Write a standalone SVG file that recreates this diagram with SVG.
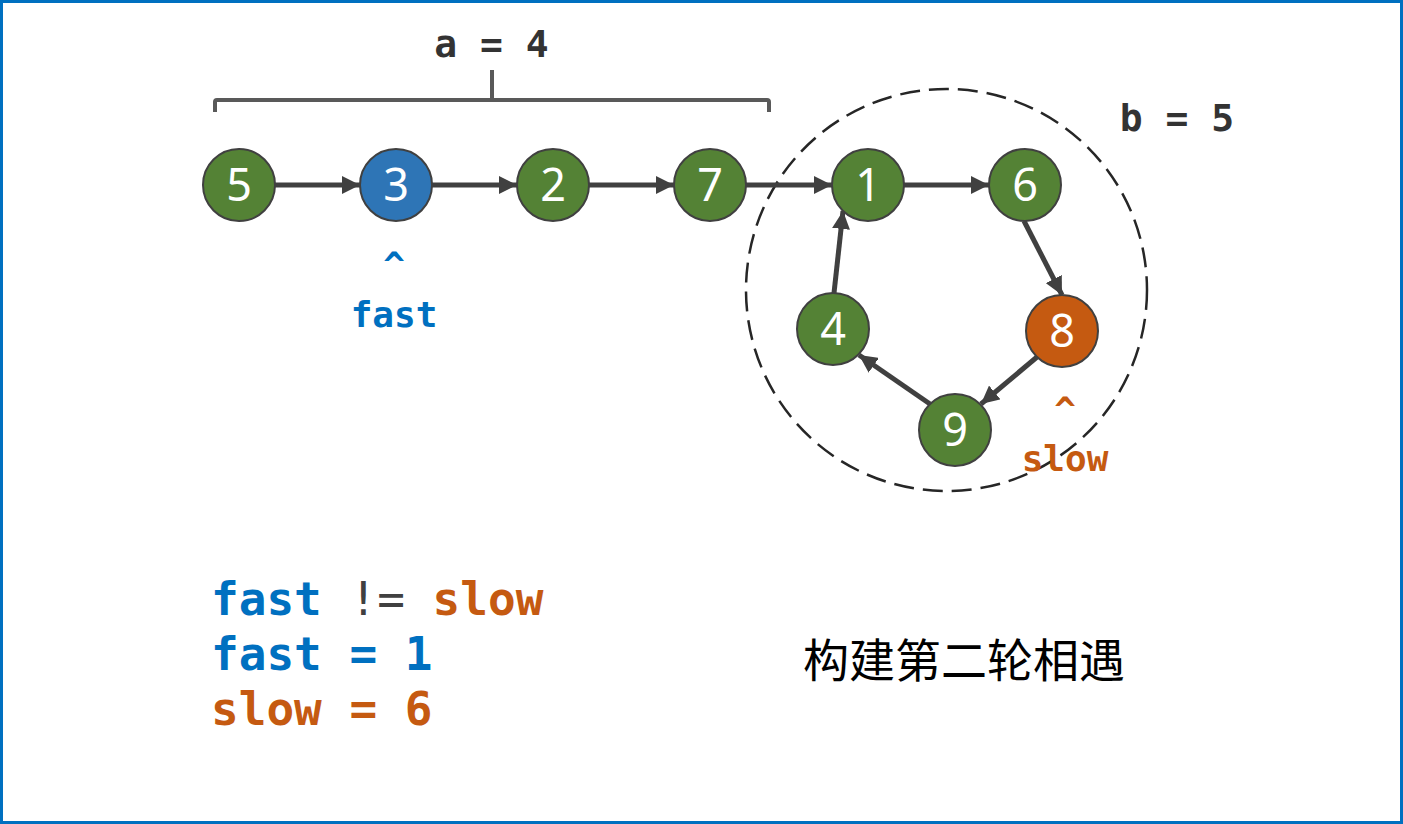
<svg xmlns="http://www.w3.org/2000/svg" width="1403" height="824" viewBox="0 0 1403 824">
<style>
.node circle{stroke:#404040;stroke-width:2}
.g{fill:#548235}.b{fill:#2e75b6}.o{fill:#c55a11}
.node text{font-family:"Noto Sans","Open Sans",sans-serif;font-size:45px;fill:#fff;text-anchor:middle}
.code{font-family:"DejaVu Sans Mono","Liberation Mono",monospace;font-weight:bold}
.edge{stroke:#404040;stroke-width:5;fill:none;marker-end:url(#ah)}
</style>
<defs>
<marker id="ah" markerUnits="userSpaceOnUse" markerWidth="20" markerHeight="18" refX="18" refY="9" orient="auto">
<path d="M0,0 L18,9 L0,18 z" fill="#404040"/>
</marker>
</defs>
<rect x="1.5" y="1.5" width="1400" height="821" fill="#fff" stroke="#0070c0" stroke-width="3"/>
<path d="M215,112 V102 Q215,100 217,100 H767 Q769,100 769,102 V112 M492,100 V70" fill="none" stroke="#595959" stroke-width="4"/>
<text class="code" x="491.5" y="57" font-size="38" fill="#333" text-anchor="middle" xml:space="preserve">a = 4</text>
<text class="code" x="1177" y="131" font-size="38" fill="#333" text-anchor="middle" xml:space="preserve">b = 5</text>
<ellipse cx="946.5" cy="290" rx="200.5" ry="201" fill="none" stroke="#262626" stroke-width="2.5" stroke-dasharray="20,9"/>
<g id="connectors">
<line class="edge" x1="275" y1="185" x2="360" y2="185"/>
<line class="edge" x1="432" y1="185" x2="517" y2="185"/>
<line class="edge" x1="589" y1="185" x2="674" y2="185"/>
<line class="edge" x1="746" y1="185" x2="832" y2="185"/>
<line class="edge" x1="904" y1="185" x2="989" y2="185"/>
<line class="edge" x1="1024" y1="221" x2="1062" y2="295"/>
<line class="edge" x1="1037" y1="357" x2="981" y2="404"/>
<line class="edge" x1="930" y1="404" x2="859" y2="355"/>
<line class="edge" x1="834" y1="293" x2="843" y2="211"/>
</g>
<g id="n5" class="node"><circle class="g" cx="239" cy="185" r="36"/><text x="239" y="201">5</text></g>
<g id="n3" class="node"><circle class="b" cx="396" cy="185" r="36"/><text x="396" y="201">3</text></g>
<g id="n2" class="node"><circle class="g" cx="553" cy="185" r="36"/><text x="553" y="201">2</text></g>
<g id="n7" class="node"><circle class="g" cx="710" cy="185" r="36"/><text x="710" y="201">7</text></g>
<g id="n1" class="node"><circle class="g" cx="868" cy="185" r="36"/><text x="868" y="201">1</text></g>
<g id="n6" class="node"><circle class="g" cx="1025" cy="185" r="36"/><text x="1025" y="201">6</text></g>
<g id="n8" class="node"><circle class="o" cx="1062" cy="331" r="36"/><text x="1062" y="347">8</text></g>
<g id="n9" class="node"><circle class="g" cx="955" cy="430" r="36"/><text x="955" y="446">9</text></g>
<g id="n4" class="node"><circle class="g" cx="833" cy="329" r="36"/><text x="833" y="345">4</text></g>
<text class="code" x="394" y="277" font-size="36" fill="#0070c0" text-anchor="middle">^</text>
<text class="code" x="394" y="327" font-size="36" fill="#0070c0" text-anchor="middle">fast</text>
<text class="code" x="1065" y="422" font-size="36" fill="#c55a11" text-anchor="middle">^</text>
<text class="code" x="1065" y="471" font-size="36" fill="#c55a11" text-anchor="middle">slow</text>
<text class="code" x="211" y="615" font-size="46" xml:space="preserve"><tspan fill="#0070c0">fast</tspan> <tspan fill="#404040" font-weight="normal">!=</tspan> <tspan fill="#c55a11">slow</tspan></text>
<text class="code" x="211" y="670" font-size="46" fill="#0070c0" xml:space="preserve">fast = 1</text>
<text class="code" x="211" y="725" font-size="46" fill="#c55a11" xml:space="preserve">slow = 6</text>
<text x="964" y="677" font-family="'Noto Sans CJK SC',sans-serif" font-size="46" fill="#000" text-anchor="middle">构建第二轮相遇</text>
</svg>
